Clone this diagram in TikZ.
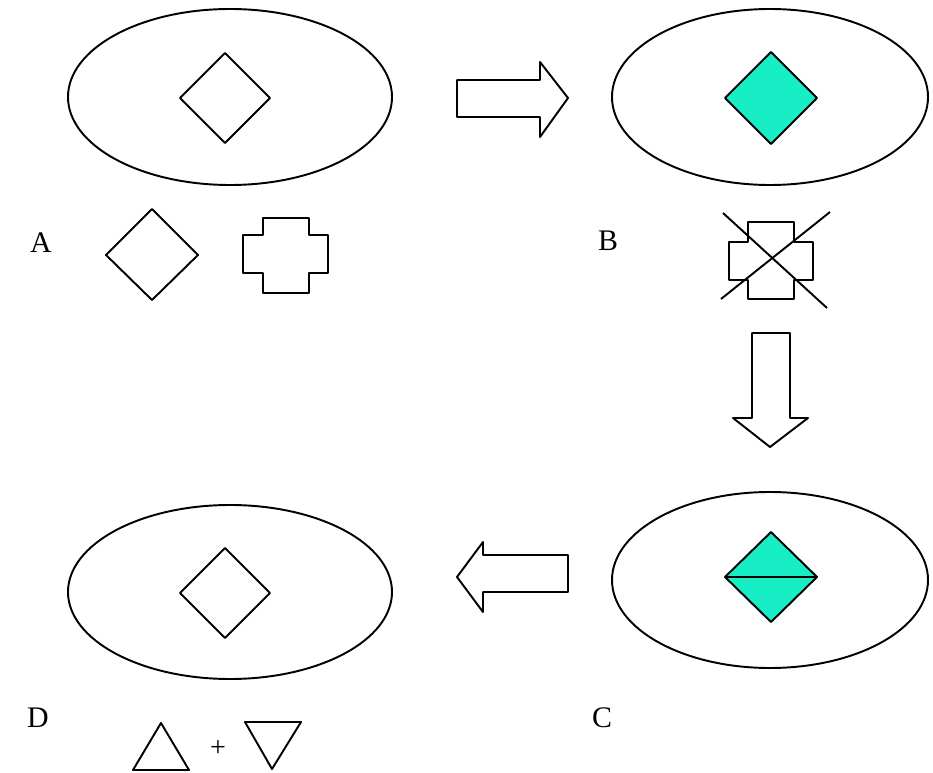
\documentclass[tikz,border=0pt]{standalone}
\usepackage{fontspec}
\setmainfont{Liberation Serif}
\definecolor{mint}{RGB}{24,238,198}
\begin{document}
\begin{tikzpicture}[x=0.02cm,y=-0.02cm,line join=round,line width=1.1pt,font=\fontsize{17}{19}\selectfont]
	\useasboundingbox (0,0) rectangle (933,773);
	% === A: cell with empty site ===
	\draw (230,97) ellipse (162 and 88);
	\draw (225,53)--(270,98)--(225,143)--(180,98)--cycle;
	\node (labA) at (41,243) {A};
	\draw (152,209)--(198,255)--(152,300)--(106,255)--cycle;
	\draw (263,218)--(309,218)--(309,235)--(328,235)--(328,273)--(309,273)--(309,293)--(263,293)--(263,273)--(243,273)--(243,235)--(263,235)--cycle;
	% arrow A -> B
	\draw (457,80)--(540,80)--(540,62)--(568,98)--(540,137)--(540,117)--(457,117)--cycle;
	% === B: site filled ===
	\draw (770,97) ellipse (158 and 88);
	\draw[fill=mint] (771,52)--(817,98)--(771,144)--(725,98)--cycle;
	\node (labB) at (608,241) {B};
	\draw (748,222)--(794,222)--(794,242)--(813,242)--(813,280)--(794,280)--(794,299)--(748,299)--(748,280)--(729,280)--(729,242)--(748,242)--cycle;
	\draw (723,213)--(827,308) (830,212)--(721,299);
	% arrow B -> C
	\draw (752,333)--(790,333)--(790,418)--(808,418)--(770,447)--(733,418)--(752,418)--cycle;
	% === C: split ===
	\draw (770,580) ellipse (158 and 88);
	\draw[fill=mint] (771,532)--(817,577)--(771,622)--(725,577)--cycle;
	\draw (725,577)--(817,577);
	\node (labC) at (602,718) {C};
	% arrow C -> D
	\draw (568,555)--(483,555)--(483,542)--(457,577)--(483,612)--(483,592)--(568,592)--cycle;
	% === D: products released ===
	\draw (230,592) ellipse (162 and 87);
	\draw (225,548)--(270,593)--(225,638)--(180,593)--cycle;
	\node (labD) at (38,718) {D};
	\draw (161,723)--(189,770)--(133,770)--cycle;
	\node[font=\fontsize{16}{18}\selectfont] (plus) at (218,749) {+};
	\draw (245,722)--(301,722)--(272,769)--cycle;
\end{tikzpicture}
\end{document}
